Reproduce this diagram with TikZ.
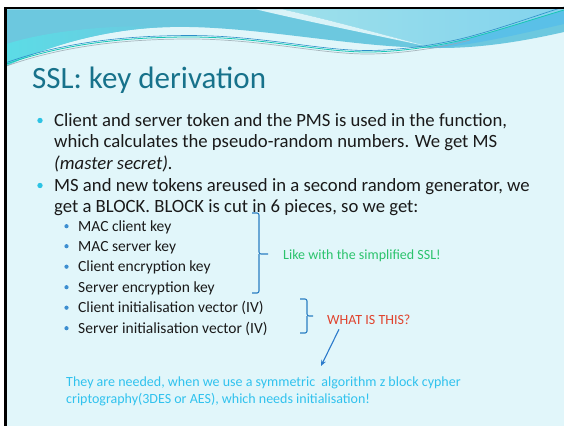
\documentclass[tikz,border=0pt]{standalone}
\usepackage{fontspec}
\setmainfont{Carlito}
\usetikzlibrary{arrows.meta}

\definecolor{slidebg}{HTML}{E1F6FA}
\definecolor{bandmid}{HTML}{6CC8DF}
\definecolor{bandcyan}{HTML}{5CDCE6}
\definecolor{lightleft}{HTML}{9EE0EA}
\definecolor{lightright}{HTML}{82D3EE}
\definecolor{streak}{HTML}{D9F3F8}
\definecolor{bluestripe}{HTML}{5AC0E8}
\definecolor{swirlteal}{HTML}{19C6B4}
\definecolor{swirlblue}{HTML}{2C8FC8}
\definecolor{swirlgray}{HTML}{9AA6AE}
\definecolor{titlecol}{HTML}{17728B}
\definecolor{bodytext}{HTML}{1A1A1A}
\definecolor{mainbul}{HTML}{2CC3E4}
\definecolor{subbul}{HTML}{3C8ED0}
\definecolor{bracecol}{HTML}{2A7EC2}
\definecolor{notegreen}{HTML}{2BC36C}
\definecolor{notered}{HTML}{E0432D}
\definecolor{noteblue}{HTML}{30C2EE}
\definecolor{arrowcol}{HTML}{2B7ACB}

\tikzset{
  title/.style={anchor=base west, inner sep=0pt, text=titlecol,
    font=\fontsize{31}{36}\selectfont},
  body/.style={anchor=base west, inner sep=0pt, text=bodytext,
    font=\fontsize{18.7}{22}\selectfont},
  subitem/.style={anchor=base west, inner sep=0pt, text=bodytext,
    font=\fontsize{15.5}{18}\selectfont},
  mainbullet/.style={circle, fill=mainbul, inner sep=0pt, minimum size=5.4pt},
  subbullet/.style={circle, fill=subbul, inner sep=0pt, minimum size=4.2pt},
  bracket/.style={draw=bracecol, line width=1.1pt, rounded corners=2pt},
  note/.style={anchor=base west, inner sep=0pt, font=\fontsize{14}{17}\selectfont},
  pointer/.style={draw=arrowcol, line width=1.1pt,
    -{Stealth[length=6pt,width=5pt]}}
}

\begin{document}
\begin{tikzpicture}[x=1pt,y=-1pt]
\useasboundingbox (0,0) rectangle (564,426);

% page and slide background
\fill[white] (0,0) rectangle (564,426);
\fill[slidebg] (6.5,9.3) rectangle (564,426);

% header band
\fill[bandmid]
  (6.5,9.3) -- (564,9.3) -- (564,32)
  .. controls (520,42) and (480,48) .. (440,48)
  .. controls (410,48) and (380,46) .. (330,40)
  .. controls (270,33) and (220,26) .. (170,27)
  .. controls (120,28) and (60,40) .. (6.5,66) -- cycle;

% brighter cyan toward the lower left of the band
\shade[left color=bandcyan, right color=bandmid]
  (6.5,66) .. controls (60,40) and (120,28) .. (170,27)
  .. controls (120,24) and (50,30) .. (6.5,44) -- cycle;

% lighter region at the upper right
\shade[left color=lightleft, right color=lightright]
  (282,9.3) -- (564,9.3) -- (564,10)
  .. controls (540,17) and (510,27) .. (470,38)
  .. controls (455,42) and (442,46) .. (430,47)
  .. controls (380,34) and (330,20) .. (282,9.3) -- cycle;

% pale streak
\fill[streak]
  (256,9.3) -- (282,9.3)
  .. controls (330,20) and (380,34) .. (430,47)
  .. controls (370,34) and (300,20) .. (256,9.3) -- cycle;

% darker blue stripe under the swirl lines
\fill[bluestripe]
  (430,47) .. controls (442,46) and (455,42) .. (470,38)
  .. controls (510,27) and (540,17) .. (564,10)
  -- (564,24) .. controls (520,34) and (470,46) .. (430,48.5) -- cycle;

% swirl lines
\draw[swirlgray, line width=0.7pt, opacity=0.8]
  (6.5,66) .. controls (60,47) and (120,39) .. (190,39)
  .. controls (260,39) and (320,54) .. (367,54)
  .. controls (400,54) and (440,48) .. (470,40);
\draw[swirlblue, line width=0.6pt]
  (6.5,62.5) .. controls (60,43.5) and (120,35.5) .. (190,35.5)
  .. controls (260,35.5) and (320,50.5) .. (367,50.5)
  .. controls (400,50.5) and (440,44.5) .. (470,36.5)
  .. controls (510,25.5) and (540,14) .. (564,7);
\draw[swirlteal, line width=0.8pt]
  (6.5,64) .. controls (60,45) and (120,37) .. (190,37)
  .. controls (260,37) and (320,52) .. (367,52)
  .. controls (400,52) and (440,46) .. (470,38)
  .. controls (510,27) and (540,17) .. (564,10);

% frame lines
\fill[black] (4,6.7) rectangle (564,9.3);
\fill[black] (4,6.7) rectangle (6.5,426);

% title
\node[title] (title) at (32,88) {SSL: key derivation};

% first bullet
\node[mainbullet] (mb1) at (40,120.5) {};
\node[body] (l1) at (54,126) {Client and server token and the PMS is used in the function,};
\node[body] (l2) at (54,147.5) {which calculates the pseudo-random numbers. We get MS};
\node[body] (l3) at (54,169) {\itshape (master secret).};

% second bullet
\node[mainbullet] (mb2) at (40,185.5) {};
\node[body] (l4) at (54,191) {MS and new tokens areused in a second random generator, we};
\node[body] (l5) at (54,212.5) {get a BLOCK. BLOCK is cut in 6 pieces, so we get:};

% the six pieces
\foreach \name/\yy/\txt in {
  s1/231/MAC client key,
  s2/251/MAC server key,
  s3/271.5/Client encryption key,
  s4/292/Server encryption key,
  s5/312.5/Client initialisation vector (IV),
  s6/333/Server initialisation vector (IV)}{
  \node[subbullet] (\name b) at (66.5,\yy-4.8) {};
  \node[subitem] (\name) at (78,\yy) {\txt};
}

% brackets
\draw[bracket] (252,213) -| (259,254) -- (268,254);
\draw[bracket] (259,254) |- (252,293);
\draw[bracket] (300,299) -| (307,316) -- (313,316);
\draw[bracket] (307,316) |- (300,333);

% notes
\node[note, text=notegreen] (same) at (283,259) {Like with the simplified SSL!};
\node[note, text=notered] (what) at (327,324) {WHAT IS THIS?};
\node[note, text=noteblue] (need1) at (66,386)
  {They are needed, when we use a symmetric\ \ algorithm z block cypher};
\node[note, text=noteblue] (need2) at (66,403)
  {criptography(3DES or AES), which needs initialisation!};

% pointer from the question to the explanation
\coordinate (tip) at (321,366);
\draw[pointer] ([shift={(12,5)}]what.south west) -- (tip);
\end{tikzpicture}
\end{document}
